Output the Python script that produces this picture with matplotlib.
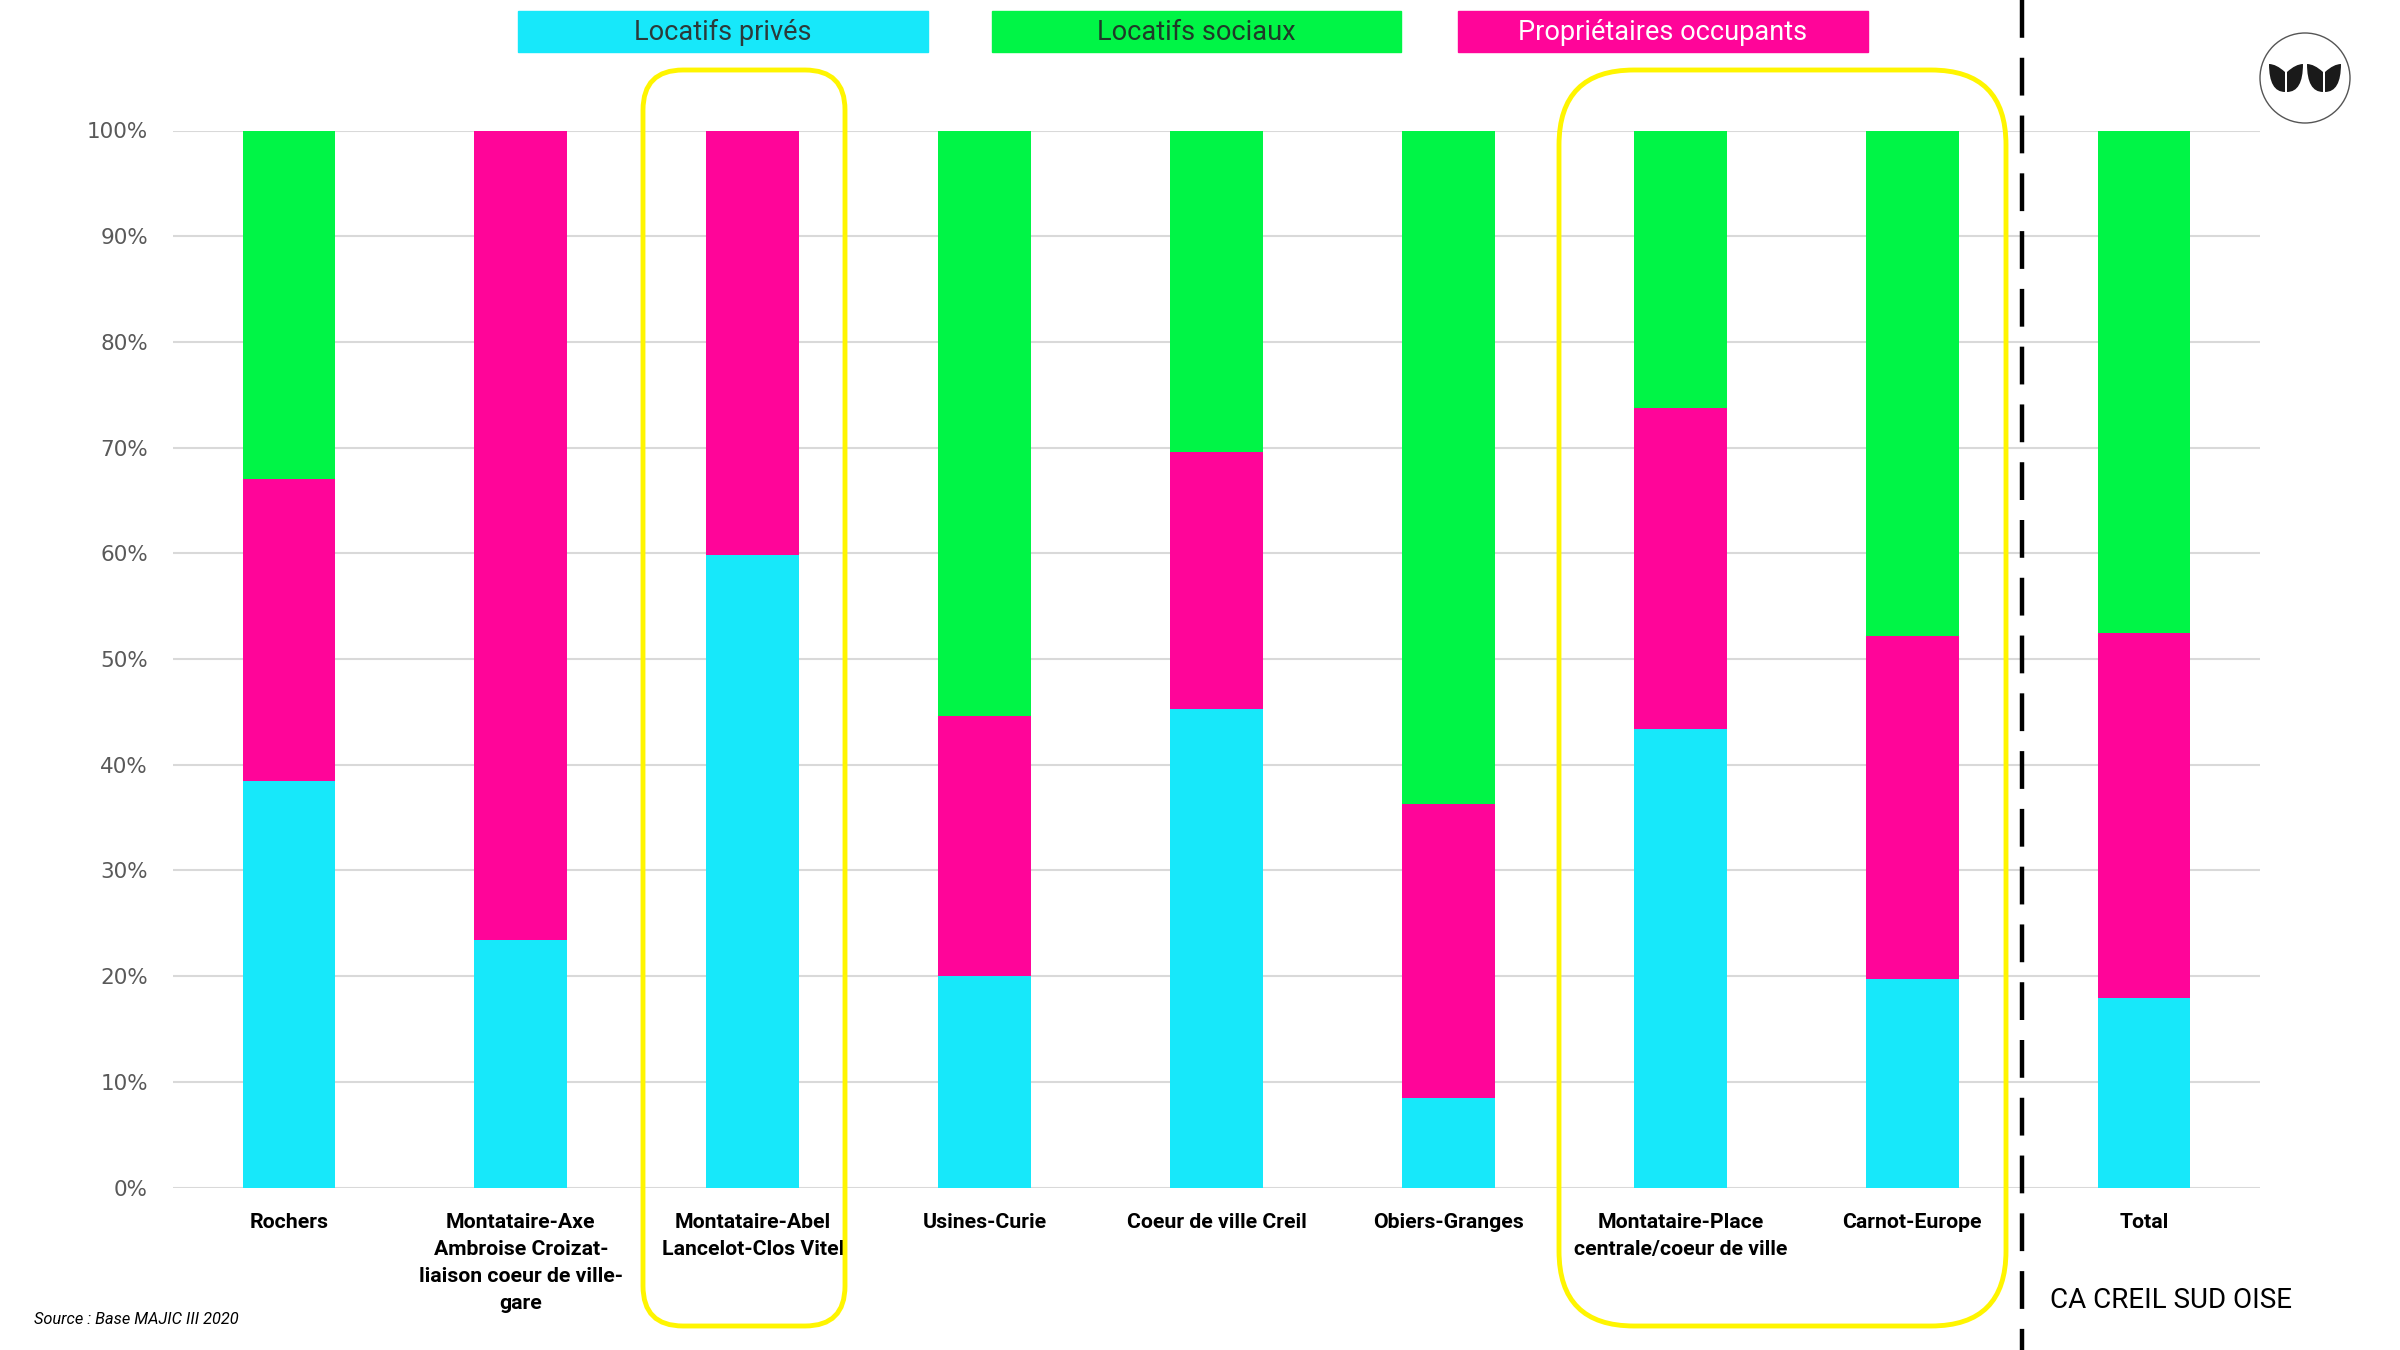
import matplotlib
matplotlib.use("Agg")
import matplotlib.pyplot as plt
import numpy as np
from matplotlib.patches import FancyBboxPatch, Rectangle, Circle, PathPatch
from matplotlib.path import Path
from matplotlib.ticker import PercentFormatter

# Share of housing by occupancy status (%)
categories = [
    "Rochers",
    "Montataire-Axe\nAmbroise Croizat-\nliaison coeur de ville-\ngare",
    "Montataire-Abel\nLancelot-Clos Vitel",
    "Usines-Curie",
    "Coeur de ville Creil",
    "Obiers-Granges",
    "Montataire-Place\ncentrale/coeur de ville",
    "Carnot-Europe",
    "Total",
]
locatifs_prives = [38.5, 23.4, 59.8, 20.0, 45.3, 8.5, 43.4, 19.7, 17.9]
proprietaires = [28.5, 76.6, 40.2, 24.6, 24.3, 27.8, 30.3, 32.5, 34.6]
locatifs_sociaux = [33.0, 0.0, 0.0, 55.4, 30.4, 63.7, 26.3, 47.8, 47.5]

series_names = ["Locatifs privés", "Locatifs sociaux", "Propriétaires occupants"]
CYAN = "#17E8FA"
GREEN = "#00F546"
MAGENTA = "#FF0599"
YELLOW = "#FFF500"

plt.rcParams["font.family"] = ["Roboto", "DejaVu Sans"]

fig = plt.figure(figsize=(24, 13.5), dpi=100)
ax = fig.add_axes([173 / 2400, 1 - 1187.5 / 1350, (2260 - 173) / 2400, (1187.5 - 130.5) / 1350])

x = np.arange(len(categories))
lp = np.array(locatifs_prives)
po = np.array(proprietaires)
ls = np.array(locatifs_sociaux)
ax.bar(x, lp, width=0.4, color=CYAN, zorder=3)
ax.bar(x, po, width=0.4, bottom=lp, color=MAGENTA, zorder=3)
ax.bar(x, ls, width=0.4, bottom=lp + po, color=GREEN, zorder=3)

ax.set_xlim(-0.5, len(categories) - 0.5)
ax.set_ylim(0, 100)
ax.set_yticks(np.arange(0, 101, 10))
ax.yaxis.set_major_formatter(PercentFormatter(decimals=0))
ax.grid(axis="y", color="#d9d9d9", linewidth=1.5, zorder=0)
for s in ax.spines.values():
    s.set_visible(False)
ax.tick_params(axis="y", length=0, pad=18, labelsize=15.5, labelcolor="#595959")
for t in ax.get_yticklabels():
    t.set_family("DejaVu Sans")
ax.set_xticks(x)
ax.set_xticklabels(categories, fontsize=15.3, fontweight="bold", linespacing=1.55, va="top")
ax.tick_params(axis="x", length=0, pad=18)

# overlay in pixel coordinates for decorations
ov = fig.add_axes([0, 0, 1, 1], zorder=5)
ov.set_xlim(0, 2400)
ov.set_ylim(1350, 0)
ov.axis("off")
ov.patch.set_alpha(0)

# legend boxes
legend_boxes = [(518, 928), (992, 1401), (1458, 1868)]
legend_colors = [CYAN, GREEN, MAGENTA]
legend_text = ["#2b3a3a", "#1f3a28", "white"]
for (x0, x1), name, c, tc in zip(legend_boxes, series_names, legend_colors, legend_text):
    ov.add_patch(Rectangle((x0, 11), x1 - x0, 41, color=c))
    ov.text((x0 + x1) / 2, 32.5, name, ha="center", va="center", fontsize=19.5, color=tc)

# yellow highlight frames
ov.add_patch(FancyBboxPatch((643, 70), 202, 1256, boxstyle="round,pad=0,rounding_size=40",
                            fill=False, ec=YELLOW, lw=3.5))
ov.add_patch(FancyBboxPatch((1559, 70), 447, 1256, boxstyle="round,pad=0,rounding_size=75",
                            fill=False, ec=YELLOW, lw=3.5))

# dashed separator before Total
ov.plot([2022, 2022], [0, 1350], color="black", lw=3.2, dashes=(8.5, 4.5))

ov.text(2050, 1300, "CA CREIL SUD OISE", fontsize=20, color="black", va="center", ha="left")
ov.text(34, 1320, "Source : Base MAJIC III 2020", fontsize=11.8, style="italic", color="black",
        va="center", ha="left")

# logo
cx, cy = 2305, 78
ov.add_patch(Circle((cx, cy), 45, fill=False, ec="#555555", lw=1))


def leaf(x0, w, left):
    top, bot = cy - 14, cy + 14
    if left:
        tip, inner = (x0, top), x0 + w
        verts = [tip, (x0, bot), (inner, bot), (inner, top + 8), (x0 + w * 0.45, top), tip]
    else:
        tip, inner = (x0 + w, top), x0
        verts = [tip, (x0 + w, bot), (inner, bot), (inner, top + 8), (x0 + w * 0.55, top), tip]
    codes = [Path.MOVETO, Path.CURVE3, Path.CURVE3, Path.LINETO, Path.CURVE3, Path.CURVE3]
    return PathPatch(Path(verts, codes), color="#1a1a1a", lw=0)


ov.add_patch(leaf(cx - 36, 16, True))
ov.add_patch(leaf(cx - 18, 16, False))
ov.add_patch(leaf(cx + 2, 16, True))
ov.add_patch(leaf(cx + 20, 16, False))

fig.savefig("out.png", dpi=100, facecolor="white")
